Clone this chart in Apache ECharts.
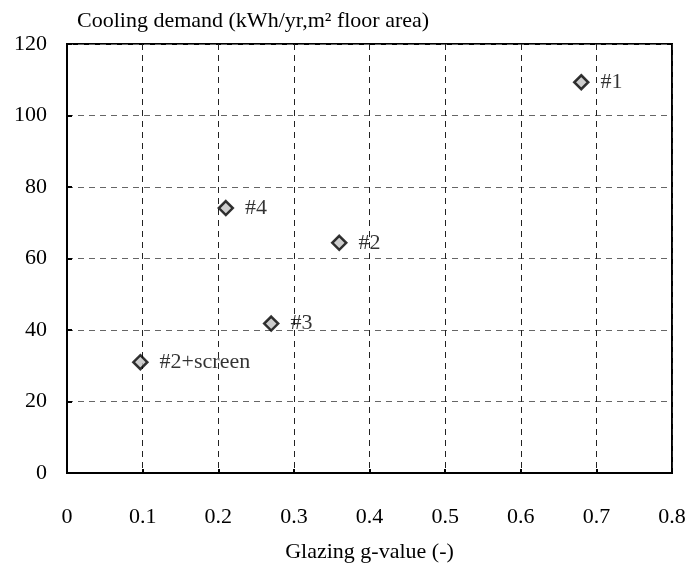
<!DOCTYPE html>
<html>
<head>
<meta charset="utf-8">
<script src="https://cdn.jsdelivr.net/npm/echarts@6/dist/echarts.min.js"></script>
<style>html,body{margin:0;padding:0;background:#fff;}#c{width:689px;height:568px;}</style>
</head>
<body>
<div id="c"></div>
<script>
const names = ['#1', '#2', '#3', '#4', '#2+screen'];
const gValues = [0.68, 0.36, 0.27, 0.21, 0.097];
const coolingDemand = [109.3, 64.4, 41.8, 74.1, 31.0];
const yTitle = 'Cooling demand (kWh/yr,m² floor area)';
const xTitle = 'Glazing g-value (-)';

const FONT = '"Liberation Serif", "DejaVu Serif", serif';
const FS = 22;
const data = names.map((n, i) => [gValues[i], coolingDemand[i], n]);

const chart = echarts.init(document.getElementById('c'));
chart.setOption({
  animation: false,
  backgroundColor: '#fff',
  textStyle: { fontFamily: FONT, color: '#000' },
  title: {
    text: yTitle, left: 72, top: 5,
    textStyle: { fontFamily: FONT, fontSize: FS, fontWeight: 'normal', color: '#000' }
  },
  grid: { left: 67, right: 17, top: 44, bottom: 95, show: true, borderColor: '#000', borderWidth: 2, backgroundColor: 'transparent' },
  xAxis: {
    type: 'value', min: 0, max: 0.8, interval: 0.1,
    name: xTitle, nameLocation: 'middle', nameGap: 68,
    nameTextStyle: { fontFamily: FONT, fontSize: FS, color: '#000' },
    axisLine: { show: true, lineStyle: { color: '#000', width: 2 } },
    axisTick: { show: true, inside: true, length: 4, lineStyle: { color: '#000', width: 2 } },
    axisLabel: { fontFamily: FONT, fontSize: FS, color: '#000', margin: 33 },
    splitLine: { show: true, lineStyle: { color: '#222', width: 1, type: [6, 5] } }
  },
  yAxis: {
    type: 'value', min: 0, max: 120, interval: 20,
    axisLine: { show: true, lineStyle: { color: '#000', width: 2 } },
    axisTick: { show: true, inside: true, length: 5, lineStyle: { color: '#000', width: 2 } },
    axisLabel: { fontFamily: FONT, fontSize: FS, color: '#000', margin: 20 },
    splitLine: { show: true, lineStyle: { color: '#666', width: 1, type: [6, 5] } }
  },
  series: [{
    type: 'scatter',
    symbol: 'diamond',
    symbolSize: 14,
    itemStyle: { color: '#c0c0c0', borderColor: '#000', borderWidth: 2.5 },
    label: {
      show: true, position: 'right', distance: 11,
      formatter: p => p.value[2],
      fontFamily: FONT, fontSize: FS, color: '#000'
    },
    data: data
  }]
});
</script>
</body>
</html>
